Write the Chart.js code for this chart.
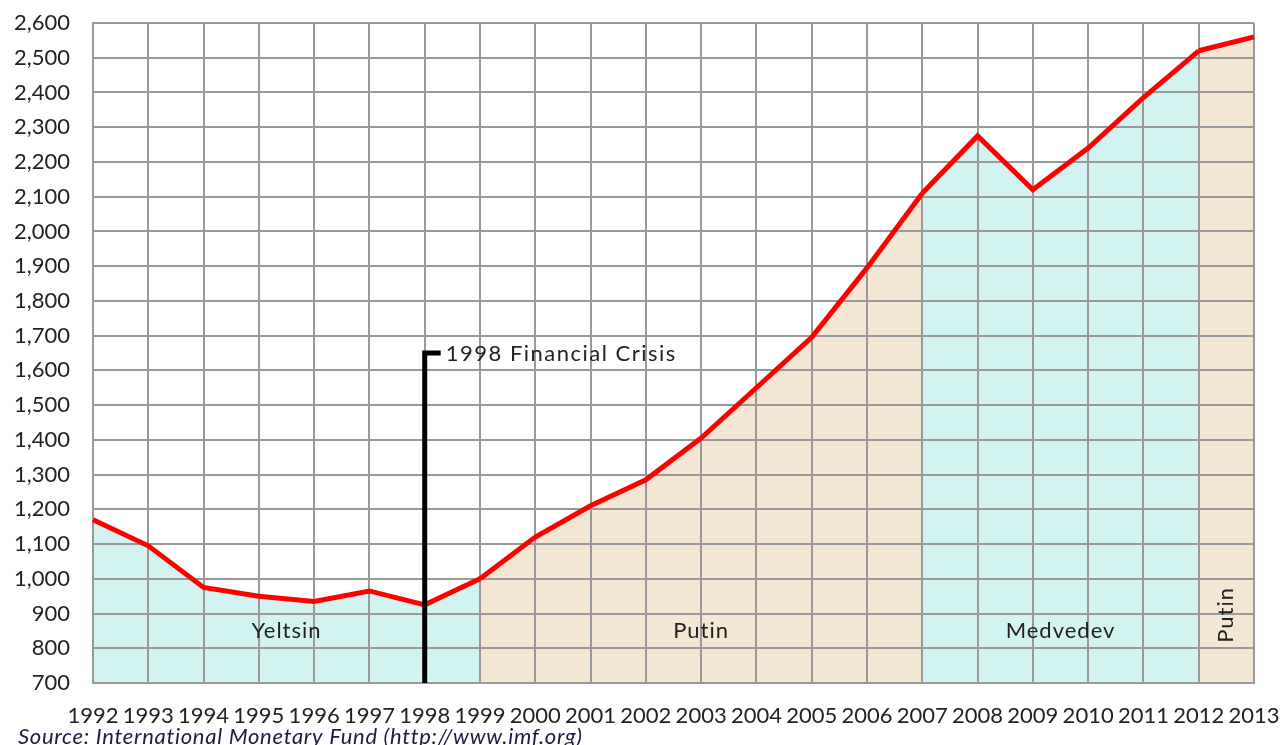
<!DOCTYPE html>
<html>
<head>
<meta charset="utf-8">
<script src="https://cdn.jsdelivr.net/npm/chart.js@4/dist/chart.umd.min.js"></script>
<style>
  html, body { margin: 0; padding: 0; background: #fff; }
  #wrap { width: 1280px; height: 745px; }
</style>
</head>
<body>
<div id="wrap"><canvas id="grafico"></canvas></div>
<script>
// Datos
const years = ['1992','1993','1994','1995','1996','1997','1998','1999','2000','2001','2002',
  '2003','2004','2005','2006','2007','2008','2009','2010','2011','2012','2013'];
const values = [1170, 1095, 975, 950, 935, 965, 925, 1000, 1120, 1210, 1285,
  1405, 1550, 1695, 1895, 2110, 2275, 2120, 2240, 2385, 2520, 2560];
const yTicks = [700, 800, 900, 1000, 1100, 1200, 1300, 1400, 1500, 1600, 1700, 1800,
  1900, 2000, 2100, 2200, 2300, 2400, 2500, 2600];

// Periodos de gobierno
const eraNames = ['Yeltsin', 'Putin', 'Medvedev', 'Putin'];
const eraStart = ['1992', '1999', '2007', '2012'];
const eraEnd = ['1999', '2007', '2012', '2013'];
const eraLabelValue = [850, 850, 850, 850];

const crisisYear = '1998';
const crisisTop = 1650;
const crisisText = '1998 Financial Crisis';
const sourceText = 'Source: International Monetary Fund (http://www.imf.org)';

const FONT = 'Lato, "Open Sans", sans-serif';
const CYAN = '#d3f3f1';
const TAN = '#f3e6d2';

// color de relleno según el periodo
function eraColor(idx) {
  for (let i = 0; i < eraNames.length; i++) {
    const a = years.indexOf(eraStart[i]);
    const b = years.indexOf(eraEnd[i]);
    if (idx >= a && idx < b) return i % 2 === 0 ? CYAN : TAN;
  }
  return CYAN;
}

// Anotaciones: crisis, nombres de periodos, fuente
const anotaciones = {
  id: 'anotaciones',
  afterDatasetsDraw(chart) {
    const { ctx, scales: { x, y } } = chart;
    ctx.save();
    // nombres
    ctx.fillStyle = '#222';
    ctx.font = '22px ' + FONT;
    ctx.letterSpacing = '1px';
    ctx.textAlign = 'center';
    ctx.textBaseline = 'middle';
    eraNames.forEach((name, i) => {
      const x0 = x.getPixelForValue(years.indexOf(eraStart[i]));
      const x1 = x.getPixelForValue(years.indexOf(eraEnd[i]));
      const cx = (x0 + x1) / 2;
      const cy = y.getPixelForValue(eraLabelValue[i]);
      if (x1 - x0 < 80) {
        ctx.save();
        ctx.translate(cx, cy - 16);
        ctx.rotate(-Math.PI / 2);
        ctx.fillText(name, 0, 0);
        ctx.restore();
      } else {
        ctx.fillText(name, cx, cy);
      }
    });

    // linea de la crisis
    const cx = x.getPixelForValue(years.indexOf(crisisYear));
    const top = y.getPixelForValue(crisisTop);
    ctx.strokeStyle = '#000';
    ctx.lineWidth = 5;
    ctx.lineCap = 'butt';
    ctx.beginPath();
    ctx.moveTo(cx, y.bottom);
    ctx.lineTo(cx, top);
    ctx.lineTo(cx + 16, top);
    ctx.stroke();
    ctx.textAlign = 'left';
    ctx.letterSpacing = '1.5px';
    ctx.fillText(crisisText, cx + 21, top + 1);
    ctx.restore();
  },
  afterDraw(chart) {
    const { ctx } = chart;
    ctx.save();
    ctx.fillStyle = '#1c1c44';
    ctx.font = 'italic 22px ' + FONT;
    ctx.letterSpacing = '0.7px';
    ctx.textAlign = 'left';
    ctx.textBaseline = 'alphabetic';
    ctx.fillText(sourceText, 18, 744);
    ctx.restore();
  }
};

const ctx = document.getElementById('grafico').getContext('2d');
new Chart(ctx, {
  type: 'line',
  data: {
    labels: years,
    datasets: [{
      data: values,
      borderColor: '#ff0000',
      borderWidth: 5,
      pointRadius: 0,
      tension: 0,
      fill: 'start',
      backgroundColor: CYAN,
      segment: {
        backgroundColor: (c) => eraColor(c.p0DataIndex)
      }
    }]
  },
  options: {
    responsive: true,
    maintainAspectRatio: false,
    animation: false,
    layout: { padding: { top: 23, right: 26, left: 0, bottom: 0 } },
    plugins: {
      legend: { display: false },
      tooltip: { enabled: false },
      filler: { drawTime: 'beforeDraw' }
    },
    scales: {
      x: {
        grid: { color: '#999', lineWidth: 2, drawTicks: false },
        border: { color: '#999', width: 2 },
        ticks: {
          color: '#222',
          font: { family: FONT, size: 22 },
          padding: 20,
          maxRotation: 0,
          autoSkip: false
        },
        afterFit(scale) {
          scale.height = 62;
          scale.paddingLeft = 0;
          scale.paddingRight = 0;
        }
      },
      y: {
        min: yTicks[0],
        max: yTicks[yTicks.length - 1],
        afterBuildTicks(scale) { scale.ticks = yTicks.map(v => ({ value: v })); },
        grid: { color: '#999', lineWidth: 2, drawTicks: false },
        border: { color: '#999', width: 2 },
        ticks: {
          color: '#222',
          font: { family: FONT, size: 22 },
          padding: 23,
          callback: (v) => v.toLocaleString('en-US')
        },
        afterFit(scale) {
          scale.width = 93;
          scale.paddingTop = 0;
          scale.paddingBottom = 0;
        }
      }
    }
  },
  plugins: [anotaciones]
});
</script>
</body>
</html>
